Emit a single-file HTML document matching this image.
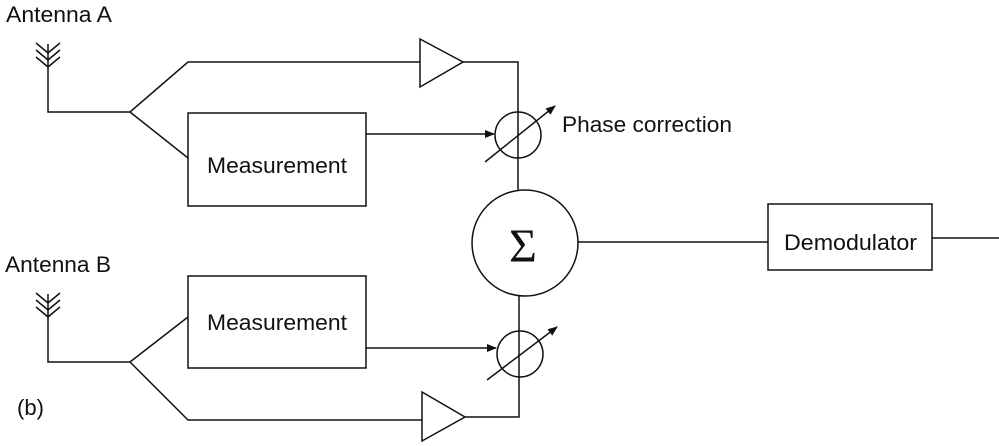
<!DOCTYPE html>
<html><head><meta charset="utf-8"><style>
html,body{margin:0;padding:0;background:#fff;}
svg{display:block;}
text{font-family:"Liberation Sans",sans-serif;font-size:22px;fill:#111;}
</style></head><body>
<svg width="999" height="446" viewBox="0 0 999 446" xmlns="http://www.w3.org/2000/svg">
<defs><marker id="ar" markerWidth="10" markerHeight="8" refX="9" refY="4" orient="auto" markerUnits="userSpaceOnUse"><path d="M0,0 L10,4 L0,8 z" fill="#111"/></marker></defs>
<g stroke="#111" stroke-width="1.5" fill="none">
<path d="M48,44 V112 H130 L188,62 H420 M130,112 L188,158"/>
<path d="M36,43 L48,53 L60,43 M36,50 L48,60 L60,50 M36,57 L48,67 L60,57"/>
<polygon points="420,39 463,62 420,87" fill="#fff"/>
<path d="M463,62 H518 V191"/>
<rect x="188" y="113" width="178" height="93"/>
<path d="M366,134 H494" marker-end="url(#ar)"/>
<circle cx="518" cy="135" r="23"/>
<path d="M485,162 L555,106" marker-end="url(#ar)"/>
<circle cx="525" cy="243" r="53"/>
<path d="M578,242 H768"/>
<rect x="768" y="204" width="164" height="66"/>
<path d="M932,238 H999"/>
<path d="M48,294 V362 H130 L188,317 M130,362 L188,420 H422"/>
<path d="M36,293 L48,303 L60,293 M36,300 L48,310 L60,300 M36,307 L48,317 L60,307"/>
<rect x="188" y="276" width="178" height="92"/>
<path d="M366,348 H496" marker-end="url(#ar)"/>
<circle cx="520" cy="354" r="23"/>
<path d="M487,380 L557,327" marker-end="url(#ar)"/>
<polygon points="422,392 465,417 422,441" fill="#fff"/>
<path d="M465,417 H519 V296"/>
</g>
<text x="6" y="22" textLength="106" lengthAdjust="spacingAndGlyphs">Antenna A</text>
<text x="5" y="272" textLength="106" lengthAdjust="spacingAndGlyphs">Antenna B</text>
<text x="17" y="415" textLength="27" lengthAdjust="spacingAndGlyphs">(b)</text>
<text x="562" y="132" textLength="170" lengthAdjust="spacingAndGlyphs">Phase correction</text>
<text x="207" y="173" textLength="140" lengthAdjust="spacingAndGlyphs">Measurement</text>
<text x="207" y="330" textLength="140" lengthAdjust="spacingAndGlyphs">Measurement</text>
<text x="784" y="250" textLength="133" lengthAdjust="spacingAndGlyphs">Demodulator</text>
<text x="523" y="262" text-anchor="middle" style="font-family:'Liberation Serif',serif;font-size:48px;">Σ</text>
</svg>
</body></html>
